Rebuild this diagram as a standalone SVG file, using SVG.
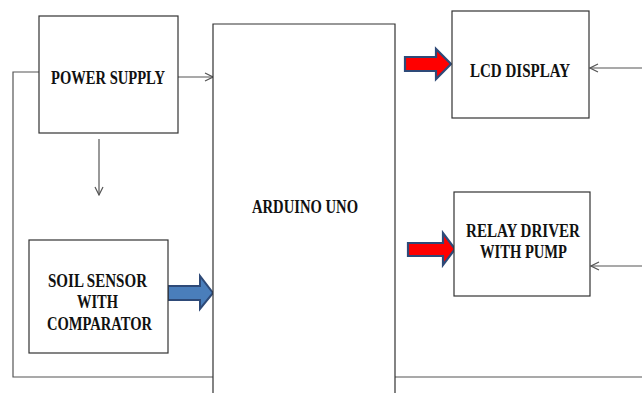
<svg xmlns="http://www.w3.org/2000/svg" width="642" height="393" viewBox="0 0 642 393">
<style>
.box{fill:#fff;stroke:#333;stroke-width:1.2}
.ln{fill:none;stroke:#555;stroke-width:1.2}
.t{font-family:'Liberation Serif','DejaVu Serif',serif;font-weight:700;font-size:19px;fill:#111;text-anchor:middle}
.red{fill:#f00;stroke:#2e4a78;stroke-width:2.2;stroke-linejoin:miter}
.blue{fill:#4a7ebb;stroke:#2e4a78;stroke-width:2}
</style>
<defs>
<marker id="oa" markerWidth="10" markerHeight="10" refX="9" refY="5" orient="auto" markerUnits="userSpaceOnUse">
<path d="M1,1 L9,5 L1,9" fill="none" stroke="#555" stroke-width="1.2"/>
</marker>
</defs>
<rect width="642" height="393" fill="#fff"/>
<g id="connectors">
<path class="ln" d="M39,72 H13 V377 H642"/>
<path class="ln" d="M166,77 H213" marker-end="url(#oa)"/>
<path class="ln" d="M99,139 V195" marker-end="url(#oa)"/>
<path class="ln" d="M642,68 H590" marker-end="url(#oa)"/>
<path class="ln" d="M642,266 H591" marker-end="url(#oa)"/>
<path class="blue" d="M168,286 H200 V276 L213,293 L200,309 V300 H168 Z"/>
<path class="red" d="M405,57 H436 V49 L451,64 L436,79 V71 H405 Z"/>
<path class="red" d="M408,243 H443 V233 L455,249 L443,265 V256 H408 Z"/>
</g>
<g id="arduino">
<path class="box" d="M213,393 V24 H395 V393"/>
<text class="t" x="305" y="213" textLength="106" lengthAdjust="spacingAndGlyphs">ARDUINO UNO</text>
</g>
<g id="power">
<rect class="box" x="39" y="16" width="139" height="117"/>
<text class="t" x="108" y="84" textLength="114" lengthAdjust="spacingAndGlyphs">POWER SUPPLY</text>
</g>
<g id="soil">
<rect class="box" x="29" y="240" width="139" height="113"/>
<text class="t" x="97.5" y="287" textLength="99" lengthAdjust="spacingAndGlyphs">SOIL SENSOR</text>
<text class="t" x="97.5" y="308" textLength="41" lengthAdjust="spacingAndGlyphs">WITH</text>
<text class="t" x="99.5" y="330" textLength="105" lengthAdjust="spacingAndGlyphs">COMPARATOR</text>
</g>
<g id="lcd">
<rect class="box" x="452" y="11" width="137" height="107"/>
<text class="t" x="520" y="77" textLength="100" lengthAdjust="spacingAndGlyphs">LCD DISPLAY</text>
</g>
<g id="relay">
<rect class="box" x="454" y="192" width="136" height="104"/>
<text class="t" x="523" y="237" textLength="114" lengthAdjust="spacingAndGlyphs">RELAY DRIVER</text>
<text class="t" x="523.5" y="258" textLength="87" lengthAdjust="spacingAndGlyphs">WITH PUMP</text>
</g>
</svg>
